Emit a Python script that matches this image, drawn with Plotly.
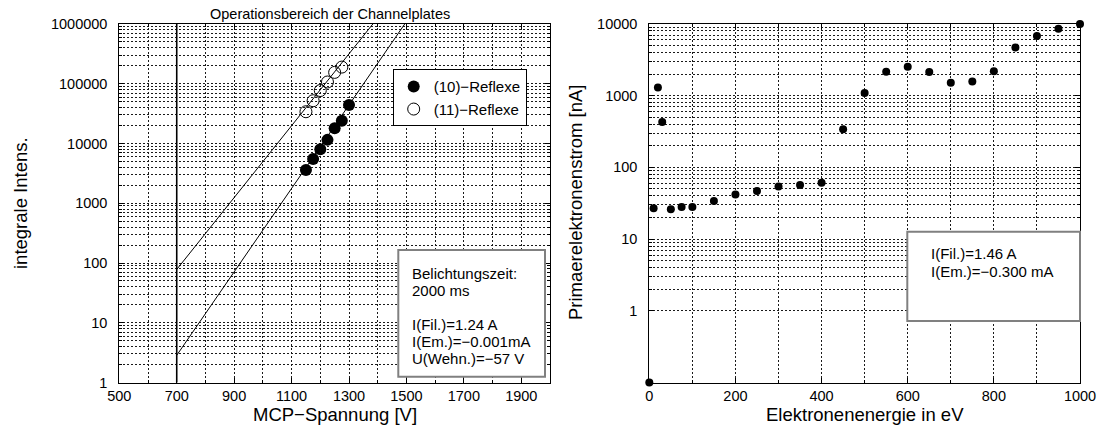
import plotly.graph_objects as go

# ---------------- left panel: integrated intensity vs. MCP voltage ----------------
mcp_voltage_10 = [1150, 1175, 1200, 1225, 1250, 1275, 1300]
intensity_10 = [3600, 5500, 8000, 11500, 18000, 24000, 44000]

mcp_voltage_11 = [1150, 1175, 1200, 1225, 1250, 1275]
intensity_11 = [34000, 52000, 77000, 107000, 155000, 190000]

# exponential fit lines (straight in log scale)
fit_voltage_10 = [700, 1494]
fit_intensity_10 = [2.85, 1000000]
fit_voltage_11 = [700, 1383]
fit_intensity_11 = [78, 1000000]

operating_limit_v = 700

left_x_ticks = [500, 700, 900, 1100, 1300, 1500, 1700, 1900]
left_y_ticks = [1, 10, 100, 1000, 10000, 100000, 1000000]
left_y_labels = ["1", "10", "100", "1000", "10000", "100000", "1000000"]

left_box_lines = ["Belichtungszeit:", "2000 ms", "", "I(Fil.)=1.24 A",
                  "I(Em.)=\u22120.001mA", "U(Wehn.)=\u221257 V"]

# ---------------- right panel: primary electron current vs. energy ----------------
energy_ev = [0, 10, 20, 30, 50, 75, 100, 150, 200, 250, 300, 350, 400,
             450, 500, 550, 600, 650, 700, 750, 800, 850, 900, 950, 1000]
primary_current_na = [0.1, 27, 1300, 430, 26, 28, 28, 34, 42, 47, 54, 57, 61,
                      340, 1090, 2160, 2540, 2140, 1520, 1580, 2190, 4720, 6800, 8610, 10000]

right_x_ticks = [0, 200, 400, 600, 800, 1000]
right_y_ticks = [1, 10, 100, 1000, 10000]
right_y_labels = ["1", "10", "100", "1000", "10000"]

right_box_lines = ["I(Fil.)=1.46 A", "I(Em.)=\u22120.300 mA"]

# ---------------- layout geometry (pixels) ----------------
W, H = 1097, 427
FONT = "Liberation Sans, Arial, Helvetica, sans-serif"
GRID = "#1a1a1a"
DASH = "2px,2px"


def px(x):
    return x / W


def py(y):
    return 1 - y / H


frame_top, frame_bottom = 24, 382.5
left_x0, left_x1 = 119.3, 550
right_x0, right_x1 = 649.3, 1080


def log_minor(first_decade, last_decade):
    vals = []
    for k in range(first_decade, last_decade):
        for m in range(2, 10):
            vals.append(m * 10 ** k)
    return vals


fig = go.Figure()

fig.add_trace(go.Scatter(
    x=fit_voltage_11, y=fit_intensity_11, mode="lines",
    line=dict(color="black", width=1), showlegend=False, hoverinfo="skip",
    xaxis="x", yaxis="y"))
fig.add_trace(go.Scatter(
    x=fit_voltage_10, y=fit_intensity_10, mode="lines",
    line=dict(color="black", width=1), showlegend=False, hoverinfo="skip",
    xaxis="x", yaxis="y"))
fig.add_trace(go.Scatter(
    x=mcp_voltage_10, y=intensity_10, mode="markers", name="(10)\u2212Reflexe",
    marker=dict(symbol="circle", size=12, color="black"),
    xaxis="x", yaxis="y"))
fig.add_trace(go.Scatter(
    x=mcp_voltage_11, y=intensity_11, mode="markers", name="(11)\u2212Reflexe",
    marker=dict(symbol="circle-open", size=12, color="black", line=dict(width=1)),
    xaxis="x", yaxis="y"))

fig.add_trace(go.Scatter(
    x=energy_ev, y=primary_current_na, mode="markers", showlegend=False,
    marker=dict(symbol="circle", size=8, color="black"), cliponaxis=False,
    xaxis="x2", yaxis="y2"))

axis_common = dict(
    showline=True, linecolor="black", linewidth=1, mirror="allticks",
    ticks="inside", ticklen=5, tickcolor="black", automargin=False,
    showgrid=True, gridcolor=GRID, gridwidth=1, griddash=DASH,
    zeroline=False, tickfont=dict(family=FONT, size=14.5, color="black"),
)

y_domain = [py(frame_bottom), py(frame_top)]

fig.update_layout(
    width=W, height=H,
    margin=dict(l=0, r=0, t=0, b=0, autoexpand=False),
    paper_bgcolor="white", plot_bgcolor="white",
    font=dict(family=FONT, color="black"),
    xaxis=dict(
        domain=[px(left_x0), px(left_x1)], range=[500, 2000],
        tickmode="array", tickvals=left_x_ticks, anchor="y",
        ticklabelstandoff=0,
        minor=dict(dtick=100, tick0=500, showgrid=True, gridcolor=GRID,
                   griddash=DASH, ticks="inside", ticklen=3),
        **axis_common),
    yaxis=dict(
        domain=y_domain, type="log", range=[0, 6],
        tickmode="array", tickvals=left_y_ticks, ticktext=left_y_labels,
        anchor="x", ticklabelstandoff=8,
        minor=dict(tickmode="array", tickvals=log_minor(0, 6), showgrid=True,
                   gridcolor=GRID, griddash=DASH, ticks="inside", ticklen=3),
        **axis_common),
    xaxis2=dict(
        domain=[px(right_x0), px(right_x1)], range=[0, 1000],
        tickmode="array", tickvals=right_x_ticks, anchor="y2",
        ticklabelstandoff=0,
        minor=dict(dtick=100, tick0=0, showgrid=True, gridcolor=GRID,
                   griddash=DASH, ticks="inside", ticklen=3),
        **axis_common),
    yaxis2=dict(
        domain=y_domain, type="log", range=[-1, 4],
        tickmode="array", tickvals=right_y_ticks, ticktext=right_y_labels,
        anchor="x2", ticklabelstandoff=8,
        minor=dict(tickmode="array", tickvals=log_minor(0, 4), showgrid=True,
                   gridcolor=GRID, griddash=DASH, ticks="inside", ticklen=3),
        **axis_common),
    legend=dict(
        x=px(526.7), y=py(69.3), xanchor="right", yanchor="top",
        bgcolor="white", bordercolor="black", borderwidth=1,
        font=dict(family=FONT, size=15, color="black"),
        tracegroupgap=0, itemwidth=30),
)

shapes = [
    # lower limit of the MCP operating range
    dict(type="line", xref="x", yref="y domain", x0=operating_limit_v,
         x1=operating_limit_v, y0=0, y1=1, line=dict(color="black", width=1.6)),
    # parameter boxes
    dict(type="rect", xref="paper", yref="paper",
         x0=px(398.3), x1=px(545), y0=py(376.7), y1=py(250),
         line=dict(color="#808080", width=2), fillcolor="white", layer="above"),
    dict(type="rect", xref="paper", yref="paper",
         x0=px(907.3), x1=px(1080), y0=py(321), y1=py(231.7),
         line=dict(color="#808080", width=2), fillcolor="white", layer="above"),
]
fig.update_layout(shapes=shapes)

annotations = [
    dict(text="Operationsbereich der Channelplates", x=px(330), y=py(14),
         xref="paper", yref="paper", showarrow=False,
         xanchor="center", yanchor="middle", font=dict(size=14.5)),
    dict(text="MCP\u2212Spannung [V]", x=px((left_x0 + left_x1) / 2), y=py(414),
         xref="paper", yref="paper", showarrow=False,
         xanchor="center", yanchor="middle", font=dict(size=18.5)),
    dict(text="integrale Intens.", x=px(20), y=py(203), textangle=-90,
         xref="paper", yref="paper", showarrow=False,
         xanchor="center", yanchor="middle", font=dict(size=18.5)),
    dict(text="Elektronenenergie in eV", x=px((right_x0 + right_x1) / 2), y=py(414),
         xref="paper", yref="paper", showarrow=False,
         xanchor="center", yanchor="middle", font=dict(size=18.5)),
    dict(text="Primaerelektronenstrom [nA]", x=px(575), y=py(203), textangle=-90,
         xref="paper", yref="paper", showarrow=False,
         xanchor="center", yanchor="middle", font=dict(size=18.5)),
]
for i, line in enumerate(left_box_lines):
    if line:
        annotations.append(dict(text=line, x=px(410), y=py(273 + 17 * i),
                                xref="paper", yref="paper", showarrow=False,
                                xanchor="left", yanchor="middle", font=dict(size=15)))
for i, line in enumerate(right_box_lines):
    annotations.append(dict(text=line, x=px(929.3), y=py(253.3 + 18 * i),
                            xref="paper", yref="paper", showarrow=False,
                            xanchor="left", yanchor="middle", font=dict(size=15)))
fig.update_layout(annotations=annotations)

fig.write_html("out.html")
